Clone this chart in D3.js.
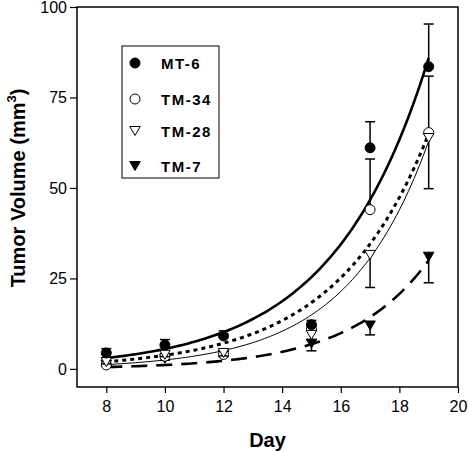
<!DOCTYPE html>
<html><head><meta charset="utf-8">
<script src="https://cdn.jsdelivr.net/npm/d3@7/dist/d3.min.js"></script>
<style>
html,body{margin:0;padding:0;background:#fff;}
text{font-family:"Liberation Sans",Arial,Helvetica,sans-serif;fill:#000;}
</style></head>
<body>
<svg id="chart" width="468" height="452"></svg>
<script>
// ---- data ----
const days = [8, 10, 12, 15, 17, 19];
const seriesNames = ["MT-6", "TM-34", "TM-28", "TM-7"];
const mt6 = [4.4, 6.6, 9.1, 12.2, 61.1, 83.5];
const tm34 = [1.1, 3.5, 4.0, 11.0, 44.0, 65.3];
const tm28 = [1.9, 3.9, 4.4, 9.4, 31.5, 63.8];
const tm7 = [1.2, 2.8, 3.8, 7.0, 12.0, 31.0];
const errMt6 = [1.2, 1.5, 1.4, 1.2, 7.2, 11.8];
const errTm34 = [0.5, 0.7, 0.8, 1.0, 14.0, 15.6];
const errTm28 = [0.5, 0.5, 0.8, 1.5, 9.0, 14.0];
const errTm7 = [0.3, 0.4, 0.5, 2.0, 2.6, 7.2];
const errDir = [1, 1, -1, -1];           // error bars drawn up (+1) or down (-1)
// exponential fit curves y = a*exp(b*day)
const fitA = [0.2615, 0.159, 0.0674, 0.02655];
const fitB = [0.305, 0.3165, 0.36, 0.37];
const fitRange = [8, 19];
const xTicks = [8, 10, 12, 14, 16, 18, 20];
const yTicks = [0, 25, 50, 75, 100];

const values = [mt6, tm34, tm28, tm7];
const errs = [errMt6, errTm34, errTm28, errTm7];
const markerFill = ["#000", "#fff", "#fff", "#000"];
const markerType = ["circle", "circle", "triDown", "triDown"];
const curveWidth = [2.6, 3, 1, 2.6];
const curveDash = [null, "4,4", null, "16,9"];

const svg = d3.select("#chart");
const x = d3.scaleLinear().domain([7, 20]).range([77, 458]);
const y = d3.scaleLinear().domain([-5, 100]).range([387, 7]);

// frame
svg.append("rect").attr("x", x(7)).attr("y", y(100))
  .attr("width", x(20) - x(7)).attr("height", y(-5) - y(100))
  .attr("fill", "none").attr("stroke", "#000").attr("stroke-width", 1.5);

// axes
const gy = svg.append("g").attr("transform", `translate(${x(7)},0)`)
  .call(d3.axisLeft(y).tickValues(yTicks).tickSize(7).tickPadding(3).tickSizeOuter(0));
gy.select(".domain").remove();
gy.selectAll("line").attr("stroke-width", 1.2);
gy.selectAll("text").attr("font-size", 16).attr("font-family", "Liberation Sans, Arial, sans-serif");

const gx = svg.append("g").attr("transform", `translate(0,${y(-5)})`)
  .call(d3.axisBottom(x).tickValues(xTicks).tickSize(6).tickPadding(8).tickSizeOuter(0));
gx.select(".domain").remove();
gx.selectAll("line").attr("stroke-width", 1.2);
gx.selectAll("text").attr("font-size", 16).attr("font-family", "Liberation Sans, Arial, sans-serif");

// axis titles
svg.append("text").attr("x", (x(7) + x(20)) / 2).attr("y", 447)
  .attr("text-anchor", "middle").attr("font-size", 20).attr("font-weight", "bold").text("Day");
const yl = svg.append("text").attr("transform", "translate(25,188) rotate(-90)")
  .attr("text-anchor", "middle").attr("font-size", 20).attr("font-weight", "bold");
yl.append("tspan").text("Tumor Volume (mm");
yl.append("tspan").attr("font-size", 13).attr("dy", -9).text("3");
yl.append("tspan").attr("dy", 9).text(")");

// fit curves
const curveDays = d3.range(fitRange[0], fitRange[1] + 0.001, 0.1);
const line = d3.line().x(d => x(d[0])).y(d => y(d[1]));
seriesNames.forEach((name, i) => {
  const pts = curveDays.map(d => [d, fitA[i] * Math.exp(fitB[i] * d)]);
  svg.append("path").datum(pts).attr("d", line)
    .attr("fill", "none").attr("stroke", "#000")
    .attr("stroke-width", curveWidth[i])
    .attr("stroke-dasharray", curveDash[i]);
});

// marker drawing
function drawMarker(g, type, fill, cx, cy, r) {
  if (type === "circle") {
    g.append("circle").attr("cx", cx).attr("cy", cy).attr("r", r)
      .attr("fill", fill).attr("stroke", "#000").attr("stroke-width", 1);
  } else {
    const h = r * 1.8, w = r * 1.05;
    g.append("path")
      .attr("d", `M${cx - w},${cy - h / 2}L${cx + w},${cy - h / 2}L${cx},${cy + h / 2}Z`)
      .attr("fill", fill).attr("stroke", "#000").attr("stroke-width", 1);
  }
}

// draw order: TM-7, TM-34, TM-28, MT-6
const order = [3, 1, 2, 0];
order.forEach(i => {
  const g = svg.append("g");
  days.forEach((d, k) => {
    const v = values[i][k], e = errs[i][k] * errDir[i];
    const cx = x(d);
    g.append("line").attr("x1", cx).attr("x2", cx).attr("y1", y(v)).attr("y2", y(v + e))
      .attr("stroke", "#000").attr("stroke-width", 1.5);
    g.append("line").attr("x1", cx - 5).attr("x2", cx + 5).attr("y1", y(v + e)).attr("y2", y(v + e))
      .attr("stroke", "#000").attr("stroke-width", 1.5);
  });
  days.forEach((d, k) => drawMarker(g, markerType[i], markerFill[i], x(d), y(values[i][k]), 5));
});

// legend
const lg = svg.append("g");
lg.append("rect").attr("x", 122).attr("y", 46).attr("width", 97).attr("height", 132)
  .attr("fill", "#fff").attr("stroke", "#000").attr("stroke-width", 1);
const legY = [63, 99, 131, 166];
seriesNames.forEach((name, i) => {
  drawMarker(lg, markerType[i], markerFill[i], 135, legY[i], 5);
  lg.append("text").attr("x", 161).attr("y", legY[i] + 5.5)
    .attr("font-size", 15).attr("font-weight", "bold").attr("letter-spacing", 1.5).text(name);
});
</script>
</body></html>
